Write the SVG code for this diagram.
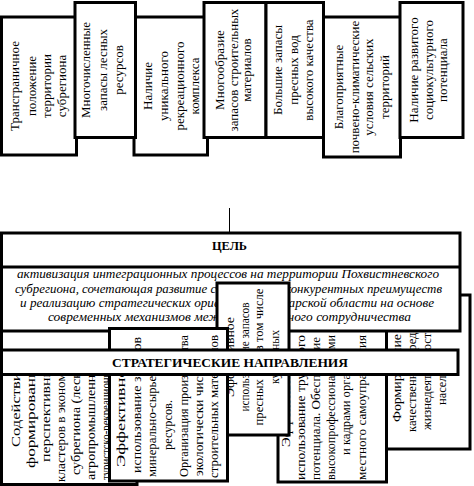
<svg xmlns="http://www.w3.org/2000/svg" width="474" height="486" viewBox="0 0 474 486">
<style>
.b{fill:#fff;stroke:#000;stroke-width:3}
.t{font-family:"Liberation Serif","DejaVu Serif",serif;font-size:13px;fill:#000;text-anchor:middle}
.s{font-family:"Liberation Serif","DejaVu Serif",serif;font-size:13.5px;fill:#000;text-anchor:start}
.m{font-family:"Liberation Serif","DejaVu Serif",serif;font-size:13.5px;fill:#000;text-anchor:middle}
.i{font-family:"Liberation Serif","DejaVu Serif",serif;font-style:italic;font-size:13.5px;fill:#000;text-anchor:middle}
.h{font-family:"Liberation Serif","DejaVu Serif",serif;font-weight:bold;font-size:12.5px;fill:#000;text-anchor:middle}
.c{stroke:#000;stroke-width:1;fill:none}
</style>
<rect width="474" height="486" fill="#fff"/>
<g id="f1"><rect class="b" x="1.5" y="17" width="75" height="138"/>
<g transform="translate(0,86) rotate(-90)" class="t"><text y="19">Трансграничное</text><text y="36">положение</text><text y="51">территории</text><text y="66">субрегиона</text></g></g>
<g id="f3"><rect class="b" x="134" y="17" width="73.5" height="138"/>
<g transform="translate(0,86) rotate(-90)" class="t"><text y="152">Наличие</text><text y="168">уникального</text><text y="184">рекреационного</text><text y="199">комплекса</text></g></g>
<g id="f6"><rect class="b" x="323.5" y="17" width="77" height="140"/>
<g transform="translate(0,87) rotate(-90)" class="t"><text y="343">Благоприятные</text><text y="359">почвено-климатические</text><text y="373">условия сельских</text><text y="389">территорий</text></g></g>
<g id="f2"><rect class="b" x="75" y="2.5" width="60.5" height="135"/>
<g transform="translate(0,70) rotate(-90)" class="t"><text y="90">Многочисленные</text><text y="107">запасы лесных</text><text y="123">ресурсов</text></g></g>
<g id="f4"><rect class="b" x="204" y="2.5" width="62" height="135"/>
<g transform="translate(0,70) rotate(-90)" class="t"><text y="224">Многообразие</text><text y="237.5">запасов строительных</text><text y="251">материалов</text></g></g>
<g id="f5"><rect class="b" x="266" y="2.5" width="57.5" height="135"/>
<g transform="translate(0,70) rotate(-90)" class="t"><text y="282">Большие запасы</text><text y="298">пресных вод</text><text y="313">высокого качества</text></g></g>
<g id="f7"><rect class="b" x="400" y="2.5" width="63" height="135"/>
<g transform="translate(0,70) rotate(-90)" class="t"><text y="418">Наличие развитого</text><text y="433">социокультурного</text><text y="447">потенциала</text></g></g>
<g id="connectors"><line class="c" x1="229.5" y1="208" x2="229.5" y2="233"/></g>
<g id="dE"><rect class="b" x="386" y="295" width="84" height="154"/>
<g transform="translate(0,378) rotate(-90)" class="m"><text y="401" textLength="88" lengthAdjust="spacingAndGlyphs">Формирование</text><text y="416" textLength="108" lengthAdjust="spacingAndGlyphs">качественной среды</text><text y="431" textLength="104" lengthAdjust="spacingAndGlyphs">жизнедеятельности</text><text y="446" textLength="54" lengthAdjust="spacingAndGlyphs">населения</text></g></g>
<g id="dD"><rect class="b" x="278" y="325" width="108.5" height="157"/>
<g transform="rotate(-90)" class="s"><text x="-447" y="290" textLength="85" lengthAdjust="spacingAndGlyphs">Эффективное</text><text x="-480" y="305" textLength="145" lengthAdjust="spacingAndGlyphs">использование трудового</text><text x="-480" y="320" textLength="143" lengthAdjust="spacingAndGlyphs">потенциала. Обеспечение</text><text x="-480" y="335" textLength="145" lengthAdjust="spacingAndGlyphs">высокопрофессиональными</text><text x="-455" y="350" textLength="100" lengthAdjust="spacingAndGlyphs">и кадрами органов</text><text x="-480" y="366" textLength="145" lengthAdjust="spacingAndGlyphs">местного самоуправления</text></g></g>
<g id="dA"><rect class="b" x="1.5" y="330" width="135.5" height="154.5"/>
<g transform="rotate(-90)" class="s"><text x="-447" y="20" textLength="82" lengthAdjust="spacingAndGlyphs">Содействие</text><text x="-468" y="35" textLength="112" lengthAdjust="spacingAndGlyphs">формированию</text><text x="-462" y="50" textLength="103" lengthAdjust="spacingAndGlyphs">перспективных</text><text x="-482" y="65" textLength="128" lengthAdjust="spacingAndGlyphs">кластеров в экономике</text><text x="-475" y="80" textLength="122" lengthAdjust="spacingAndGlyphs">субрегиона (лесной,</text><text x="-480" y="95" textLength="126" lengthAdjust="spacingAndGlyphs">агропромышленный,</text><text x="-480" y="110" textLength="125" lengthAdjust="spacingAndGlyphs">туристско-рекреационный)</text></g></g>
<g id="goal"><rect class="b" x="1.5" y="233" width="458.5" height="98"/>
<line class="b" x1="1.5" y1="267" x2="460" y2="267"/>
<text class="h" x="229.5" y="250" textLength="35" lengthAdjust="spacingAndGlyphs">ЦЕЛЬ</text>
<text class="i" x="228" y="278" textLength="422" lengthAdjust="spacingAndGlyphs">активизация интеграционных процессов на территории Похвистневского</text>
<text class="i" x="228.5" y="293" textLength="427" lengthAdjust="spacingAndGlyphs">субрегиона, сочетающая развитие собственных конкурентных преимуществ</text>
<text class="i" x="227" y="307" textLength="414" lengthAdjust="spacingAndGlyphs">и реализацию стратегических ориентиров Самарской области на основе</text>
<text class="i" x="229.5" y="321" textLength="363" lengthAdjust="spacingAndGlyphs">современных механизмов межмуниципального сотрудничества</text></g>
<g id="dC"><rect class="b" x="217" y="283" width="72" height="152"/>
<g transform="translate(0,357) rotate(-90)" class="m"><text y="234" textLength="80" lengthAdjust="spacingAndGlyphs">Эффективное</text><text y="249" textLength="109" lengthAdjust="spacingAndGlyphs">использование запасов</text><text y="263" textLength="137" lengthAdjust="spacingAndGlyphs">пресных вод, в том числе</text><text y="279" textLength="54" lengthAdjust="spacingAndGlyphs">курортных</text></g></g>
<g id="dB"><rect class="b" x="109.5" y="328.5" width="118" height="152.5"/>
<g transform="rotate(-90)" class="s"><text x="-467" y="125" textLength="107" lengthAdjust="spacingAndGlyphs">Эффективное</text><text x="-473" y="141" textLength="136" lengthAdjust="spacingAndGlyphs">использование запасов</text><text x="-477" y="156" textLength="122" lengthAdjust="spacingAndGlyphs">минерально-сырьевых</text><text x="-450" y="172" textLength="50" lengthAdjust="spacingAndGlyphs">ресурсов.</text><text x="-477" y="188" textLength="142" lengthAdjust="spacingAndGlyphs">Организация производства</text><text x="-476" y="203" textLength="121" lengthAdjust="spacingAndGlyphs">экологически чистых</text><text x="-478" y="218" textLength="143" lengthAdjust="spacingAndGlyphs">строительных материалов</text></g></g>
<g id="bar"><rect class="b" x="1.5" y="350" width="456.5" height="24.5"/>
<text class="h" x="230" y="367" textLength="236" lengthAdjust="spacingAndGlyphs">СТРАТЕГИЧЕСКИЕ НАПРАВЛЕНИЯ</text></g>
</svg>
